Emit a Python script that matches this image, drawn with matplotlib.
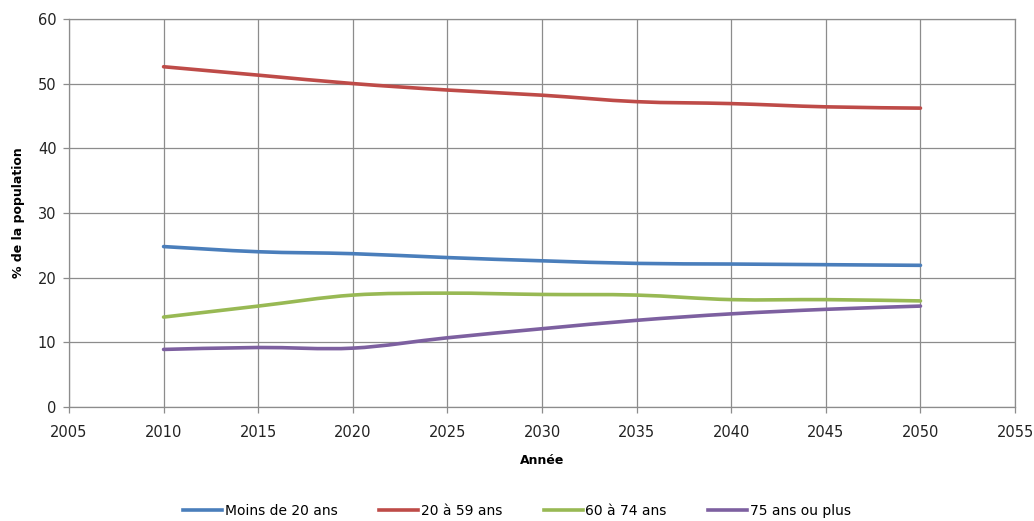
import matplotlib.pyplot as plt
import numpy as np
from matplotlib.path import Path
from matplotlib.patches import PathPatch
from matplotlib.lines import Line2D

# data
years = [2010, 2015, 2020, 2025, 2030, 2035, 2040, 2045, 2050]
moins_20 = [24.8, 24.0, 23.7, 23.1, 22.6, 22.2, 22.1, 22.0, 21.9]
de_20_59 = [52.6, 51.3, 50.0, 49.0, 48.2, 47.2, 46.9, 46.4, 46.2]
de_60_74 = [13.9, 15.6, 17.3, 17.6, 17.4, 17.3, 16.6, 16.6, 16.4]
plus_75 = [8.9, 9.2, 9.1, 10.7, 12.1, 13.4, 14.4, 15.1, 15.6]

labels = ['Moins de 20 ans', '20 à 59 ans', '60 à 74 ans', '75 ans ou plus']
colors = ['#4A7EBB', '#BE4B48', '#98B954', '#7D60A0']
series = [moins_20, de_20_59, de_60_74, plus_75]


def smooth_path(x, y):
    """Bezier path through the points, Excel-like smoothing"""
    pts = np.column_stack([x, y]).astype(float)
    n = len(pts)
    verts = [pts[0]]
    codes = [Path.MOVETO]
    for i in range(n - 1):
        p0 = pts[max(i - 1, 0)]
        p1 = pts[i]
        p2 = pts[i + 1]
        p3 = pts[min(i + 2, n - 1)]
        c1 = p1 + (p2 - p0) / 6.0
        c2 = p2 - (p3 - p1) / 6.0
        verts += [c1, c2, p2]
        codes += [Path.CURVE4] * 3
    return Path(verts, codes)


fig = plt.figure(figsize=(10.34, 5.21), dpi=100)
ax = fig.add_axes([0.0667, 0.2188, 0.915, 0.745])

for vals, col in zip(series, colors):
    patch = PathPatch(smooth_path(years, vals), facecolor='none', edgecolor=col,
                      lw=2.6, capstyle='round', joinstyle='round', zorder=3)
    ax.add_patch(patch)

ax.set_xlim(2005, 2055)
ax.set_ylim(0, 60)
ax.set_xticks(range(2005, 2056, 5))
ax.set_yticks(range(0, 61, 10))
ax.grid(True, color='#8c8c8c', lw=0.9)
ax.set_axisbelow(True)
for s in ['top', 'right', 'left', 'bottom']:
    ax.spines[s].set_color('#8c8c8c')
    ax.spines[s].set_linewidth(0.9)
ax.tick_params(colors='#8c8c8c', labelcolor='#222222', labelsize=10.5, length=4, width=0.9)
ax.tick_params(axis='x', pad=9)
ax.tick_params(axis='y', pad=5)

ax.set_xlabel('Année', fontsize=9, fontweight='bold', labelpad=10)
ax.set_ylabel('% de la population', fontsize=9, fontweight='bold', labelpad=9)

handles = [Line2D([], [], color=c, lw=2.6) for c in colors]
fig.legend(handles, labels, loc='lower center', bbox_to_anchor=(0.5, -0.018), ncol=4,
           frameon=False, fontsize=10, handlelength=2.8, handletextpad=0.2, columnspacing=3.0)

fig.savefig('out.png', dpi=100)
